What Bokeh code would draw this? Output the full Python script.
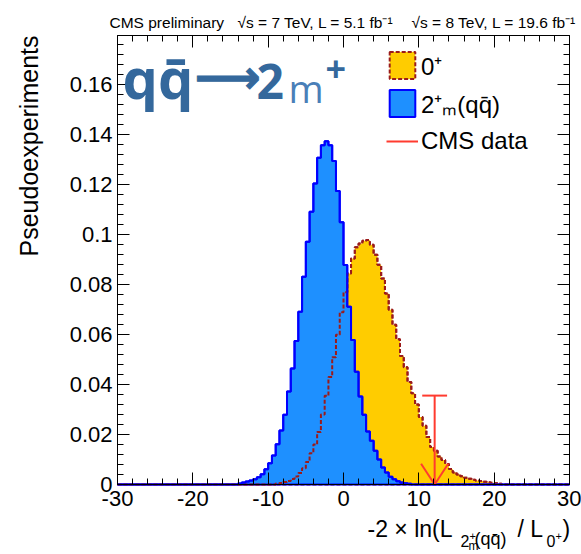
import numpy as np
from math import pi
from bokeh.plotting import figure
from bokeh.models import (Range1d, FixedTicker, LinearAxis, Label, Legend, LegendItem,
                          CustomJSTickFormatter)
from bokeh.embed import file_html
from bokeh.resources import INLINE

# ---------------- data ----------------
BIN_WIDTH = 0.5
# 0+ hypothesis pseudo-experiments, first bin starts at -9.0
SM_START = -9.0
sm_0plus = [0.0004, 0.0006, 0.0010, 0.0014, 0.0022, 0.0032, 0.0046, 0.0065, 0.0090, 0.0125,
            0.0160, 0.0210, 0.0280, 0.0355, 0.0430, 0.0510, 0.0600, 0.0690, 0.0770, 0.0845,
            0.0905, 0.0950, 0.0965, 0.0976, 0.0979, 0.0960, 0.0920, 0.0880, 0.0825, 0.0765,
            0.0700, 0.0640, 0.0582, 0.0515, 0.0470, 0.0410, 0.0365, 0.0320, 0.0270, 0.0235,
            0.0190, 0.0150, 0.0135, 0.0112, 0.0098, 0.0082, 0.0062, 0.0048, 0.0040, 0.0033,
            0.0027, 0.0023, 0.0019, 0.0016, 0.0014, 0.0011, 0.0009, 0.0007, 0.0005, 0.0003]
# 2m+(qqbar) hypothesis pseudo-experiments, first bin starts at -14.0
ALT_START = -14.0
alt_2mplus_qq = [0.0004, 0.0008, 0.0012, 0.0016, 0.0021, 0.0029, 0.0041, 0.0061, 0.0085, 0.0116,
                 0.0161, 0.0216, 0.0279, 0.0372, 0.0465, 0.0575, 0.0692, 0.0832, 0.0972, 0.1092,
                 0.1205, 0.1308, 0.1359, 0.1375, 0.1359, 0.1295, 0.1175, 0.1050, 0.0879, 0.0712,
                 0.0579, 0.0452, 0.0352, 0.0279, 0.0212, 0.0175, 0.0135, 0.0100, 0.0068, 0.0048,
                 0.0031, 0.0021, 0.0013, 0.0008, 0.0005, 0.0003]
cms_observed = 12.1

x_ticks = [-30, -20, -10, 0, 10, 20, 30]
x_tick_labels = ["-30", "-20", "-10", "0", "10", "20", "30"]
y_ticks = [0, 0.02, 0.04, 0.06, 0.08, 0.1, 0.12, 0.14, 0.16]
y_tick_labels = ["0", "0.02", "0.04", "0.06", "0.08", "0.1", "0.12", "0.14", "0.16"]

# ---------------- layout / style ----------------
X_MIN, X_MAX = -30, 30
Y_MAX = 0.1798
FONT = "Liberation Sans"
OPEN = "Open Sans"
BIG = "#34689c"
RED = "#FF3B2F"
ARROW_TOP = 0.0356      # drawn length of the observed-value arrow
CAP_HALF = 1.65
HEAD_HALF = 1.8
HEAD_LEN = 0.0083

W, H = 581, 554
FRAME_L, FRAME_R, FRAME_T, FRAME_B = 117, 569, 35, 484
PX_PER_X = (FRAME_R - FRAME_L) / (X_MAX - X_MIN)
PX_PER_Y = (FRAME_B - FRAME_T) / Y_MAX
X_START = X_MIN - FRAME_L / PX_PER_X
X_END = X_START + W / PX_PER_X
Y_END = Y_MAX + FRAME_T / PX_PER_Y
Y_START = Y_END - H / PX_PER_Y


def dx(px):  # page pixel -> data x (annotation placement only)
    return X_START + px / PX_PER_X


def dy(py):
    return Y_END - py / PX_PER_Y


def step_outline(start, heights):
    n = len(heights)
    edges = start + BIN_WIDTH * np.arange(n + 1)
    xs, ys = [X_MIN, edges[0]], [0.0, 0.0]
    for i, h in enumerate(heights):
        xs += [edges[i], edges[i + 1]]
        ys += [h, h]
    xs += [edges[-1], X_MAX]
    ys += [0.0, 0.0]
    return xs, ys


p = figure(width=W, height=H, x_range=Range1d(X_START, X_END), y_range=Range1d(Y_START, Y_END),
           output_backend="svg", toolbar_location=None, title=None,
           min_border_left=0, min_border_right=0, min_border_top=0, min_border_bottom=0)
p.grid.visible = False
p.outline_line_color = None
p.background_fill_color = "white"
p.border_fill_color = "white"

xtick = FixedTicker(ticks=x_ticks, minor_ticks=list(range(-30, 31, 2)))
ytick = FixedTicker(ticks=y_ticks, minor_ticks=[round(i * 0.004, 3) for i in range(46)])


def style_axis(ax):
    ax.axis_line_color = "black"
    ax.axis_line_width = 1
    ax.major_tick_in = 12
    ax.major_tick_out = 0
    ax.minor_tick_in = 6
    ax.minor_tick_out = 0
    ax.major_tick_line_color = "black"
    ax.minor_tick_line_color = "black"
    ax.major_label_text_font = FONT
    ax.major_label_text_font_size = "22px"
    ax.major_label_text_color = "black"


xa = p.xaxis[0]
xa.ticker = xtick
xa.major_label_overrides = {t: s for t, s in zip(x_ticks, x_tick_labels)}
style_axis(xa)
xa.major_label_standoff = 6
xa.fixed_location = 0
xa.bounds = (X_MIN, X_MAX)

ya = p.yaxis[0]
ya.ticker = ytick
ya.major_label_overrides = {t: s for t, s in zip(y_ticks, y_tick_labels)}
style_axis(ya)
ya.major_label_standoff = 5
ya.fixed_location = X_MIN
ya.bounds = (0, Y_MAX)

empty = CustomJSTickFormatter(code="return ''")
top = LinearAxis(ticker=xtick, formatter=empty)
style_axis(top)
top.fixed_location = Y_MAX
top.bounds = (X_MIN, X_MAX)
p.add_layout(top, "above")
right = LinearAxis(ticker=ytick, formatter=empty)
style_axis(right)
right.fixed_location = X_MAX
right.bounds = (0, Y_MAX)
p.add_layout(right, "right")

# ---------------- histograms ----------------
sx, sy = step_outline(SM_START, sm_0plus)
bx, by = step_outline(ALT_START, alt_2mplus_qq)

r_sm = p.patch(sx, sy, fill_color="#FFCC00", line_color="#9B1B1B", line_width=2, line_dash="4 2")
r_alt = p.patch(bx, by, fill_color="#1E90FF", line_color="#0000FF", line_width=2)
p.line(sx, sy, line_color="#9B1B1B", line_width=2, line_dash="4 2")
p.line(bx, by, line_color="#0000FF", line_width=2)

# observed value with arrow
r_obs = p.segment(x0=[cms_observed], y0=[0], x1=[cms_observed], y1=[ARROW_TOP],
                  line_color=RED, line_width=2)
p.segment(x0=[cms_observed - CAP_HALF, cms_observed - HEAD_HALF, cms_observed + HEAD_HALF],
          y0=[ARROW_TOP, HEAD_LEN, HEAD_LEN],
          x1=[cms_observed + CAP_HALF, cms_observed, cms_observed],
          y1=[ARROW_TOP, 0, 0], line_color=RED, line_width=2)

# ---------------- legend ----------------
legend = Legend(items=[LegendItem(label="0\u207a", renderers=[r_sm]),
                       LegendItem(label="2\u207a\u2098(qq\u0304)", renderers=[r_alt]),
                       LegendItem(label="CMS data", renderers=[r_obs])],
                location=(386, 396), glyph_width=32, glyph_height=34, spacing=4,
                padding=0, margin=0, label_standoff=3,
                label_text_font=FONT, label_text_font_size="24px", label_height=34,
                label_text_color="black",
                border_line_color=None, background_fill_alpha=0)
p.add_layout(legend)

# ---------------- texts ----------------
K = {FONT: 0.3465, OPEN: 0.388, "DejaVu Sans": 0.346}  # baseline offset of "middle"
HAS_OUTLINE = "text_outline_color" in Label.properties()


def lab(px, base, text, size, font=FONT, color="black", style="normal", align="left",
        angle=0, outline=False):
    kw = {}
    if outline and HAS_OUTLINE:
        kw["text_outline_color"] = color
    p.add_layout(Label(x=dx(px), y=dy(base - K[font] * size), text=text, text_font=font,
                       text_font_size=f"{size}px", text_color=color, text_font_style=style,
                       text_align=align, text_baseline="middle", angle=angle, **kw))


# header
lab(109, 27.5, "CMS preliminary", 15.5)
lab(237, 27.5, "\u221as = 7 TeV, L = 5.1 fb\u207b\u00b9", 15.5)
lab(411, 27.5, "\u221as = 8 TeV, L = 19.6 fb\u207b\u00b9", 15.5)

# y axis title (rotated, top aligned)
p.add_layout(Label(x=dx(37 - K[FONT] * 25), y=dy(35), text="Pseudoexperiments",
                   text_font=FONT, text_font_size="25px", text_color="black",
                   text_align="right", text_baseline="middle", angle=pi / 2))

# x axis title with sub/superscripts
lab(367, 536, "-2 \u00d7 ln(L", 23)
lab(460, 546, "2", 16)
lab(469, 539, "+", 11)
lab(468, 550, "m", 12)
lab(474, 545, "(qq\u0304)", 18)
lab(517, 536, "/ L", 23)
lab(546, 546, "0", 16)
lab(555, 539, "+", 11)
lab(562, 536, ")", 23)

# big process label
lab(122, 98, "qq\u0304", 56, font=OPEN, color=BIG, style="bold")
lab(194, 76 + K["DejaVu Sans"] * 46, "\u27f6", 46, font="DejaVu Sans", color=BIG, style="bold",
    outline=True)
lab(256, 100, "2", 48, font=OPEN, color=BIG, style="bold")
lab(288, 102, "m", 38, font=OPEN, color="#4a7fb8")
lab(325, 68 + K[OPEN] * 36, "+", 36, font=OPEN, color=BIG, style="bold")

open("out.html", "w").write(file_html(p, INLINE))
